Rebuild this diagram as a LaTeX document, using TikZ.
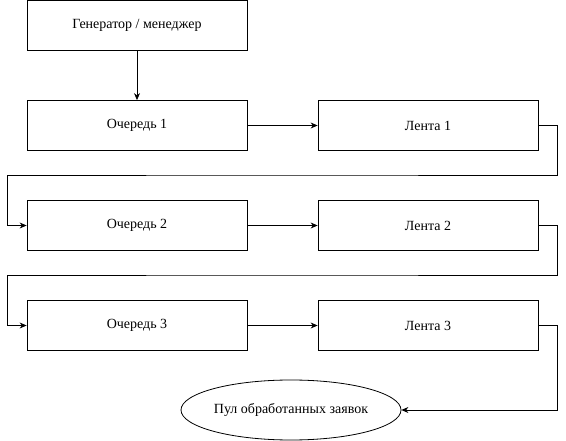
\documentclass[tikz,border=0pt]{standalone}
\usepackage{fontspec}
\setmainfont{Liberation Serif}
\usetikzlibrary{arrows.meta,shapes.geometric}
\begin{document}
\begin{tikzpicture}[x=1pt, y=-1pt, font=\fontsize{14}{16}\selectfont,
    block/.style={draw, thick, minimum width=220pt, minimum height=50pt, inner sep=0pt},
    pool/.style={draw, thick, ellipse, minimum width=220pt, minimum height=60pt, inner sep=0pt},
    link/.style={thick, -{Stealth[length=7pt, width=6pt]}}]
      \useasboundingbox (0,0) rectangle (566,441);
      \node[block] (gen) at (137,25.5) {Генератор / менеджер};
      \node[block] (q1) at (137,125.5) {Очередь 1};
      \node[block] (l1) at (428,125.5) {Лента 1};
      \node[block] (q2) at (137,225.5) {Очередь 2};
      \node[block] (l2) at (428,225.5) {Лента 2};
      \node[block] (q3) at (137,325.5) {Очередь 3};
      \node[block] (l3) at (428,325.5) {Лента 3};
      \node[pool] (done) at (291,410) {Пул обработанных заявок};
      \draw[link] (gen) -- (q1);
      \draw[link] (q1) -- (l1);
      \draw[link] (q2) -- (l2);
      \draw[link] (q3) -- (l3);
      \draw[link] (l1.east) -- ++(19,0) |- (282,175) -| (7,225.5) -- (q2.west);
      \draw[link] (l2.east) -- ++(19,0) |- (282,275) -| (7,325.5) -- (q3.west);
      \draw[link] (l3.east) -- ++(19,0) |- (done.east);
\end{tikzpicture}
\end{document}
